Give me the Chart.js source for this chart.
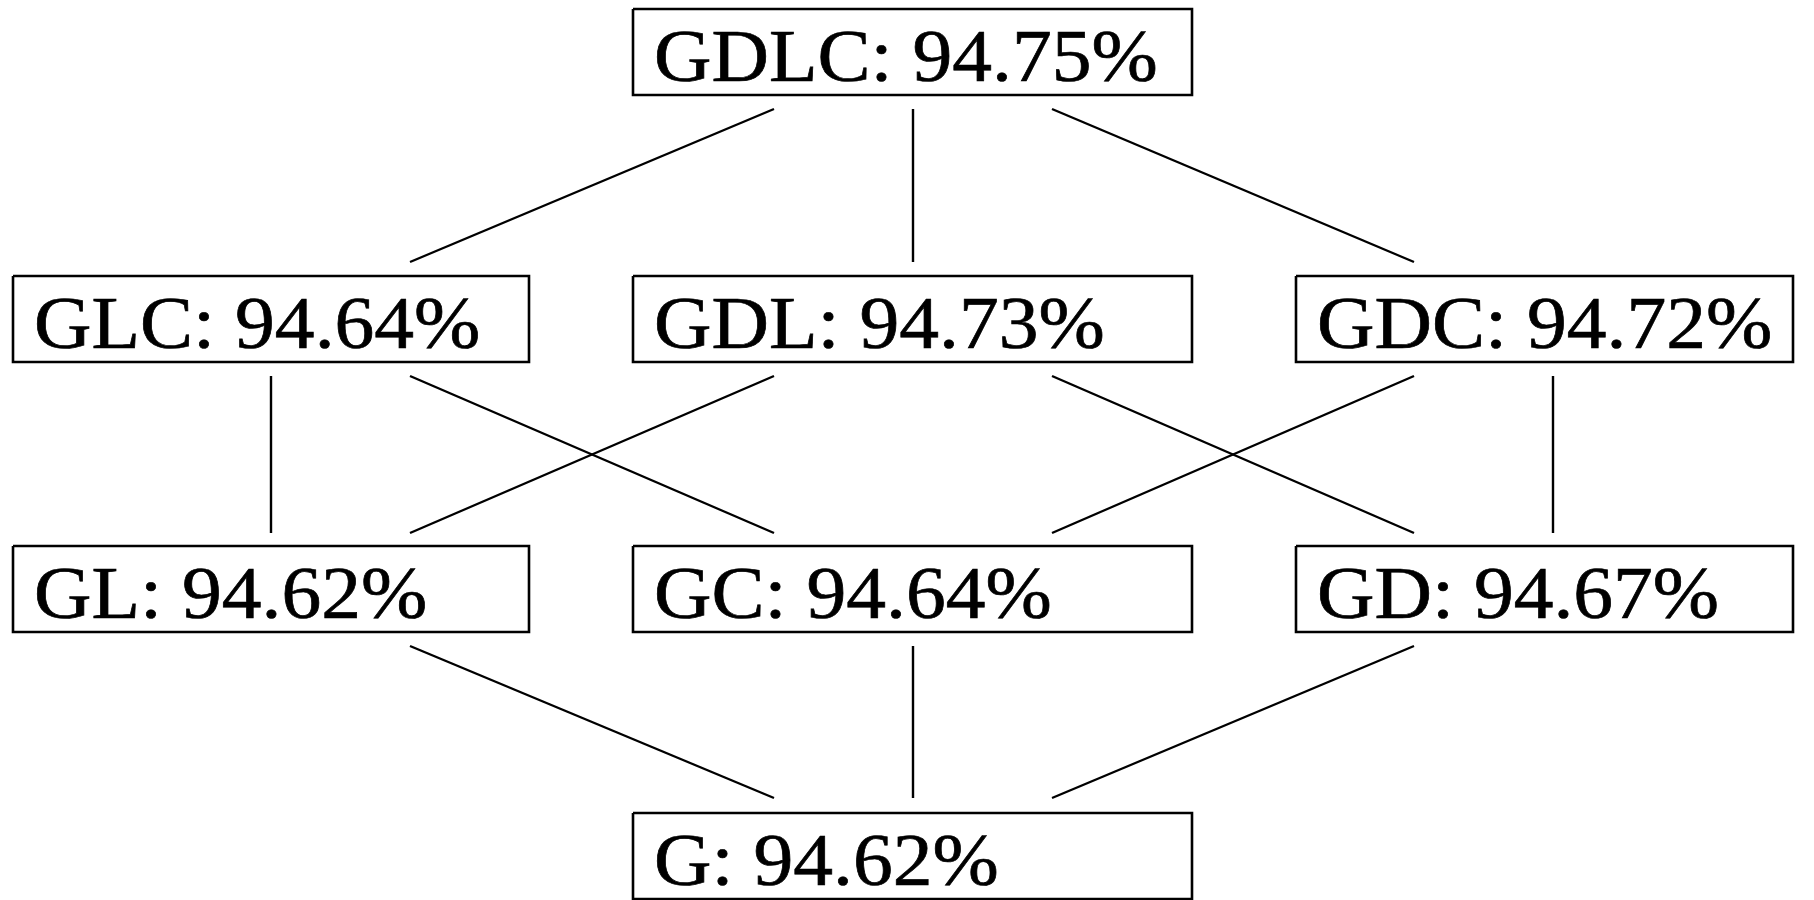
<!DOCTYPE html>
<html>
<head>
<meta charset="utf-8">
<script src="https://cdn.jsdelivr.net/npm/chart.js@4.4.1/dist/chart.umd.min.js"></script>
<style>
  html, body { margin: 0; padding: 0; background: #fff; }
  #wrap { width: 1814px; height: 900px; }
</style>
</head>
<body>
<div id="wrap"><canvas id="c" width="1814" height="900"></canvas></div>
<script>
// ---- data ----
const nodes    = ['GDLC', 'GLC', 'GDL', 'GDC', 'GL', 'GC', 'GD', 'G'];
const accuracy = [94.75, 94.64, 94.73, 94.72, 94.62, 94.64, 94.67, 94.62];
const edges = [
  ['GDLC', 'GLC'], ['GDLC', 'GDL'], ['GDLC', 'GDC'],
  ['GLC', 'GL'], ['GLC', 'GC'],
  ['GDL', 'GL'], ['GDL', 'GD'],
  ['GDC', 'GC'], ['GDC', 'GD'],
  ['GL', 'G'], ['GC', 'G'], ['GD', 'G']
];

// ---- layout (diagram geometry, in scale units) ----
const columnOf = { GDLC: 1, GLC: 0, GDL: 1, GDC: 2, GL: 0, GC: 1, GD: 2, G: 1 };
const rowOf    = { GDLC: 0, GLC: 1, GDL: 1, GDC: 1, GL: 2, GC: 2, GD: 2, G: 3 };
const colBox   = [[13, 529], [633, 1192], [1296, 1793]];
const rowTop   = [9, 276, 546, 813];
const boxH     = 86;
const colAnchorMid = [271, 913, 1553];   // vertical-edge anchor per column
const diagOffset = 139;                  // diagonal anchor offset from column anchor
const edgeStart = [109, 376, 646];       // y where edges leave row r
const edgeEnd   = [262, 533, 798];       // y where edges arrive at row r+1

function anchorX(name, otherName) {
  const c = columnOf[name], oc = columnOf[otherName];
  if (c === oc) return colAnchorMid[c];
  return colAnchorMid[c] + (oc > c ? diagOffset : -diagOffset);
}

const datasets = [];
edges.forEach(([a, b]) => {
  const r = rowOf[a];
  datasets.push({
    type: 'line',
    data: [{ x: anchorX(a, b), y: edgeStart[r] }, { x: anchorX(b, a), y: edgeEnd[r] }],
    borderColor: '#000', borderWidth: 2.4, pointRadius: 0, fill: false, tension: 0
  });
});
nodes.forEach((n) => {
  const [x0, x1] = colBox[columnOf[n]];
  const y0 = rowTop[rowOf[n]], y1 = y0 + boxH;
  datasets.push({
    type: 'line',
    data: [{ x: x0, y: y0 }, { x: x1, y: y0 }, { x: x1, y: y1 }, { x: x0, y: y1 }, { x: x0, y: y0 }],
    borderColor: '#000', borderWidth: 2.6, pointRadius: 0, fill: false, tension: 0,
    borderJoinStyle: 'miter'
  });
});

const labelPlugin = {
  id: 'nodeLabels',
  afterDatasetsDraw(chart) {
    const { ctx, scales: { x, y } } = chart;
    ctx.save();
    ctx.fillStyle = '#000';
    ctx.strokeStyle = '#000';
    ctx.lineWidth = 0.7;
    ctx.font = '74px "Liberation Serif", "Times New Roman", serif';
    ctx.textBaseline = 'alphabetic';
    ctx.textAlign = 'left';
    nodes.forEach((n, i) => {
      const px = x.getPixelForValue(colBox[columnOf[n]][0] + 21);
      const py = y.getPixelForValue(rowTop[rowOf[n]] + 72);
      const txt = n + ': ' + accuracy[i].toFixed(2) + '%';
      ctx.save();
      ctx.translate(px, py);
      ctx.scale(1.075, 1);
      ctx.fillText(txt, 0, 0);
      ctx.strokeText(txt, 0, 0);
      ctx.restore();
    });
    ctx.restore();
  }
};

new Chart(document.getElementById('c'), {
  type: 'scatter',
  data: { datasets },
  options: {
    responsive: false,
    animation: false,
    layout: { padding: 0 },
    plugins: { legend: { display: false }, tooltip: { enabled: false } },
    scales: {
      x: { type: 'linear', min: 0, max: 1814, display: false },
      y: { type: 'linear', min: 0, max: 900, reverse: true, display: false }
    },
    clip: false
  },
  plugins: [labelPlugin]
});
</script>
</body>
</html>
